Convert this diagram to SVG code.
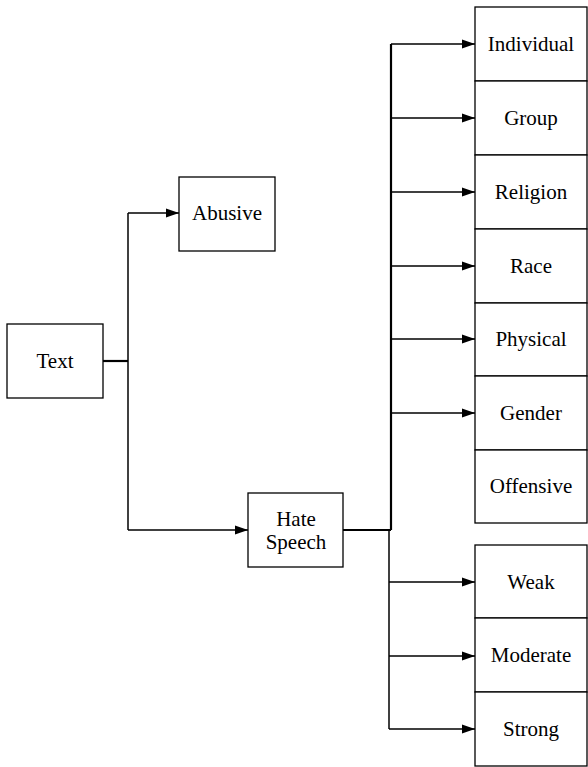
<svg xmlns="http://www.w3.org/2000/svg" width="588" height="767" viewBox="0 0 588 767">
<style>
.box{fill:#fff;stroke:#000;stroke-width:1.3}
.lbl{font-family:'Liberation Serif','Times New Roman',serif;font-size:21px;fill:#000;text-anchor:middle}
.ln{fill:none;stroke:#000;stroke-width:1.5}
.thick{fill:none;stroke:#000;stroke-width:2.2}
</style>
<defs>
<marker id="arr" markerUnits="userSpaceOnUse" markerWidth="13" markerHeight="10" refX="13" refY="5" orient="auto">
<path d="M0,0.5 L13,5 L0,9.5 Z" fill="#000"/>
</marker>
</defs>
<rect width="588" height="767" fill="#fff"/>
<g id="connectors">
<path class="thick" d="M103,361 H128"/>
<path class="ln" d="M128,213 V530"/>
<path class="ln" d="M128,213 H179" marker-end="url(#arr)"/>
<path class="ln" d="M128,530 H248" marker-end="url(#arr)"/>
<path class="thick" d="M343,530 H391"/>
<path class="thick" d="M391,44 V530"/>
<path class="ln" d="M389,530 V729"/>
<path class="ln" d="M391,44 H475" marker-end="url(#arr)"/>
<path class="ln" d="M391,118 H475" marker-end="url(#arr)"/>
<path class="ln" d="M391,192 H475" marker-end="url(#arr)"/>
<path class="ln" d="M391,266 H475" marker-end="url(#arr)"/>
<path class="ln" d="M391,339 H475" marker-end="url(#arr)"/>
<path class="ln" d="M391,413 H475" marker-end="url(#arr)"/>
<path class="ln" d="M389,582 H475" marker-end="url(#arr)"/>
<path class="ln" d="M389,656 H475" marker-end="url(#arr)"/>
<path class="ln" d="M389,729 H475" marker-end="url(#arr)"/>
</g>
<g id="text"><rect class="box" x="7" y="324" width="96" height="74"/><text class="lbl" x="55" y="368">Text</text></g>
<g id="abusive"><rect class="box" x="179" y="177" width="96" height="74"/><text class="lbl" x="227" y="220">Abusive</text></g>
<g id="hate-speech"><rect class="box" x="248" y="493" width="95" height="74"/><text class="lbl" x="296" y="526">Hate</text><text class="lbl" x="296" y="549">Speech</text></g>
<g id="individual"><rect class="box" x="475" y="7" width="112" height="74"/><text class="lbl" x="531" y="51">Individual</text></g>
<g id="group"><rect class="box" x="475" y="81" width="112" height="74"/><text class="lbl" x="531" y="125">Group</text></g>
<g id="religion"><rect class="box" x="475" y="155" width="112" height="74"/><text class="lbl" x="531" y="199">Religion</text></g>
<g id="race"><rect class="box" x="475" y="229" width="112" height="74"/><text class="lbl" x="531" y="273">Race</text></g>
<g id="physical"><rect class="box" x="475" y="303" width="112" height="73"/><text class="lbl" x="531" y="346">Physical</text></g>
<g id="gender"><rect class="box" x="475" y="376" width="112" height="74"/><text class="lbl" x="531" y="420">Gender</text></g>
<g id="offensive"><rect class="box" x="475" y="450" width="112" height="73"/><text class="lbl" x="531" y="493">Offensive</text></g>
<g id="weak"><rect class="box" x="475" y="545" width="112" height="73"/><text class="lbl" x="531" y="589">Weak</text></g>
<g id="moderate"><rect class="box" x="475" y="618" width="112" height="74"/><text class="lbl" x="531" y="662">Moderate</text></g>
<g id="strong"><rect class="box" x="475" y="692" width="112" height="74"/><text class="lbl" x="531" y="736">Strong</text></g>
</svg>
